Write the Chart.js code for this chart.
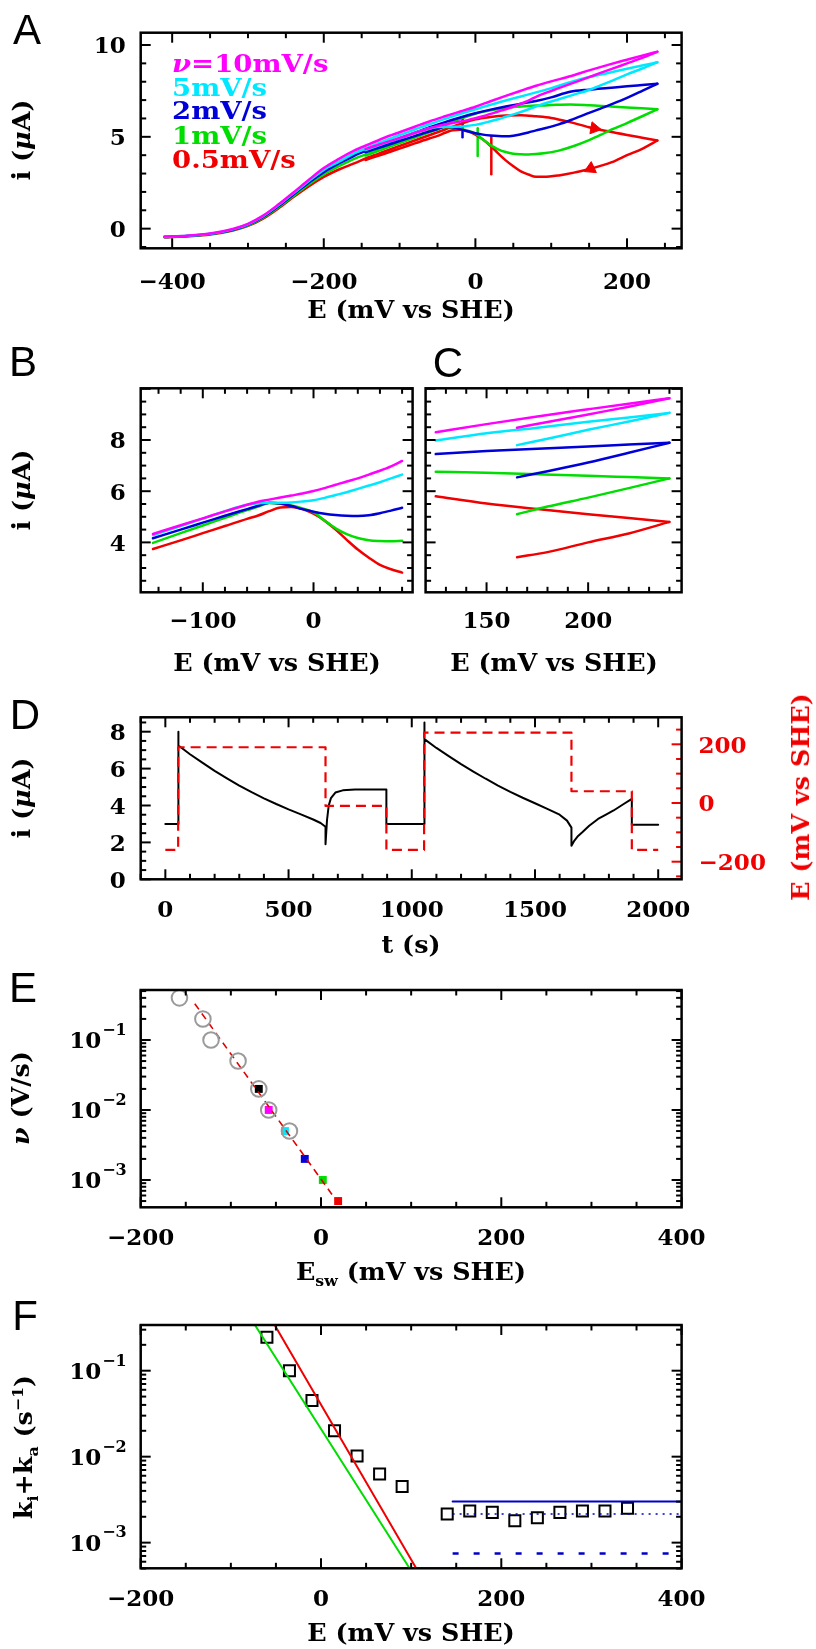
<!DOCTYPE html>
<html>
<head>
<meta charset="utf-8">
<script src="https://cdn.jsdelivr.net/npm/chart.js@4.4.1/dist/chart.umd.min.js"></script>
<style>
html,body{margin:0;padding:0;background:#fff;}
body{position:relative;width:816px;height:1649px;overflow:hidden;font-family:"DejaVu Serif",serif;}
canvas{position:absolute;left:0;top:0;}
.t{position:absolute;white-space:nowrap;line-height:1;font-size:24px;font-weight:bold;color:#000;}
.c{transform:translate(-50%,-50%) scaleX(1.06);}
.r{transform:translate(-50%,-50%) rotate(-90deg) scaleX(1.06);}
.p{position:absolute;font-family:"Liberation Sans",Arial,sans-serif;font-size:42px;line-height:1;transform:translate(-50%,-50%);}
.lg{position:absolute;white-space:nowrap;line-height:1;font-size:25px;font-weight:bold;transform-origin:0 50%;transform:translateY(-50%) scaleX(1.1);}
sub,sup{font-size:62%;line-height:0;}
</style>
</head>
<body>
<canvas id="cA" width="816" height="1649"></canvas>
<canvas id="cB" width="816" height="1649"></canvas>
<canvas id="cC" width="816" height="1649"></canvas>
<canvas id="cD" width="816" height="1649"></canvas>
<canvas id="cE" width="816" height="1649"></canvas>
<canvas id="cF" width="816" height="1649"></canvas>

<div class="p" style="left:27px;top:30px">A</div>
<div class="p" style="left:23px;top:362px">B</div>
<div class="p" style="left:448px;top:363px">C</div>
<div class="p" style="left:25px;top:715px">D</div>
<div class="p" style="left:23px;top:988px">E</div>
<div class="p" style="left:25px;top:1316px">F</div>

<div class="lg" style="left:172px;top:63px;color:#ff00ff"><i>ν</i>=10mV/s</div>
<div class="lg" style="left:172px;top:87px;color:#00e8ff">5mV/s</div>
<div class="lg" style="left:172px;top:110px;color:#0000d8">2mV/s</div>
<div class="lg" style="left:172px;top:135px;color:#00dd00">1mV/s</div>
<div class="lg" style="left:172px;top:159px;color:#f00000">0.5mV/s</div>

<div class="t c" style="left:411px;top:310px">E (mV vs SHE)</div>
<div class="t r" style="left:22px;top:140px">i (<i>μ</i>A)</div>
<div class="t c" style="left:277px;top:663px">E (mV vs SHE)</div>
<div class="t c" style="left:554px;top:663px">E (mV vs SHE)</div>
<div class="t r" style="left:22px;top:490px">i (<i>μ</i>A)</div>
<div class="t r" style="left:22px;top:798px">i (<i>μ</i>A)</div>
<div class="t c" style="left:411px;top:945px">t (s)</div>
<div class="t r" style="left:801px;top:797px;color:#f00000">E (mV vs SHE)</div>
<div class="t r" style="left:21px;top:1098px"><i>ν</i> (V/s)</div>
<div class="t c" style="left:411px;top:1272px">E<sub>sw</sub> (mV vs SHE)</div>
<div class="t r" style="left:24px;top:1447px">k<sub>i</sub>+k<sub>a</sub> (s<sup>−1</sup>)</div>
<div class="t c" style="left:411px;top:1633px">E (mV vs SHE)</div>

<script>
// ================= DATA =================
// Panel A: scan rates
const rateNames  = ['10 mV/s', '5 mV/s', '2 mV/s', '1 mV/s', '0.5 mV/s'];
const rateColors = ['#ff00ff', '#00e8ff', '#0000d8', '#00dd00', '#f00000'];

// forward (oxidative) scans
const fwdE   = [-410,-380,-350,-320,-300,-280,-260,-240,-220,-200,-180,-160,-140,-120,-100,-80,-60,-40,-20,0,20,40,60,80,100,125,150,175,200,220,240];
const fwd10  = [-0.43,-0.38,-0.27,-0.02,0.26,0.71,1.31,1.97,2.65,3.30,3.80,4.25,4.60,4.95,5.25,5.55,5.85,6.12,6.38,6.64,6.94,7.23,7.51,7.78,8.02,8.30,8.62,8.92,9.20,9.42,9.63];
const fwd5   = [-0.44,-0.39,-0.28,-0.04,0.24,0.68,1.27,1.92,2.58,3.20,3.65,4.10,4.45,4.78,5.10,5.40,5.70,5.98,6.25,6.50,6.75,6.98,7.20,7.42,7.65,7.98,8.26,8.48,8.71,8.88,9.06];
const fwd2   = [-0.45,-0.40,-0.29,-0.06,0.21,0.64,1.22,1.86,2.50,3.08,3.55,3.97,4.30,4.60,4.92,5.22,5.52,5.80,6.05,6.28,6.48,6.65,6.80,6.95,7.15,7.45,7.57,7.66,7.75,7.82,7.89];
const fwd1   = [-0.45,-0.40,-0.30,-0.08,0.18,0.60,1.16,1.78,2.40,2.95,3.40,3.80,4.10,4.40,4.72,5.03,5.35,5.66,5.98,6.26,6.44,6.57,6.65,6.70,6.73,6.76,6.72,6.66,6.60,6.55,6.50];
const fwd05  = [-0.47,-0.42,-0.32,-0.10,0.15,0.55,1.10,1.72,2.30,2.82,3.22,3.55,3.90,4.20,4.50,4.80,5.10,5.40,5.70,5.95,6.08,6.16,6.18,6.12,6.03,5.80,5.52,5.30,5.10,4.95,4.80];

// reverse scans
const revE   = [240,220,200,180,165,150,130,110,90,80,70,60,50,40,30,20,10,0,-10,-20,-30,-40,-50,-60,-80,-100,-120,-145];
const rev10  = [9.63,9.30,9.00,8.70,8.48,8.25,7.95,7.65,7.35,7.18,6.97,6.80,6.65,6.50,6.38,6.25,6.12,6.01,5.91,5.83,5.75,5.67,5.59,5.47,5.21,4.94,4.67,4.33];
const rev5   = [9.06,8.72,8.40,8.05,7.80,7.55,7.30,7.05,6.80,6.65,6.50,6.35,6.22,6.09,5.96,5.85,5.74,5.65,5.60,5.56,5.55,5.55,5.53,5.47,5.22,4.93,4.64,4.28];
const rev2   = [7.89,7.50,7.12,6.78,6.54,6.30,5.98,5.68,5.45,5.35,5.24,5.14,5.06,5.03,5.04,5.07,5.12,5.20,5.30,5.42,5.52,5.55,5.43,5.30,5.04,4.77,4.50,4.16];
const rev1   = [6.50,6.12,5.75,5.40,5.10,4.82,4.50,4.25,4.10,4.06,4.04,4.05,4.08,4.17,4.32,4.55,4.85,5.18,5.33,5.44,5.51,5.54,5.40,5.26,4.96,4.66,4.36,3.98];
const rev05  = [4.80,4.35,4.00,3.62,3.42,3.25,3.05,2.90,2.82,2.82,2.95,3.12,3.40,3.72,4.10,4.50,4.85,5.12,5.30,5.38,5.36,5.22,5.05,4.92,4.64,4.36,4.08,3.74];

// switch potential markers (2, 1, 0.5 mV/s)
const barE   = [-17, 3, 21];
const barLo  = [4.98, 3.96, 2.96];
const barHi  = [6.01, 5.47, 5.01];
const barColors = ['#0000d8', '#00dd00', '#f00000'];

// direction arrows on 0.5 mV/s trace
const arrowE   = [157, 152];
const arrowI   = [5.46, 3.27];
const arrowRot = [100, 245];

// Panel D: chronoamperometry
const dT = [0,52,52,54,80,100,150,200,250,300,350,400,450,500,550,600,630,650,650,656,663,672,690,720,770,897,897,1050,1050,1053,1100,1150,1200,1250,1300,1350,1400,1450,1500,1550,1600,1630,1648,1648,1660,1675,1692,1720,1756,1790,1819,1860,1893,1893,2000];
const dI = [3.0,3.0,8.0,7.25,6.98,6.78,6.32,5.88,5.47,5.08,4.72,4.39,4.08,3.79,3.52,3.24,3.05,2.85,1.9,3.2,4.0,4.4,4.7,4.82,4.87,4.87,3.0,3.0,8.5,7.6,7.12,6.68,6.24,5.84,5.45,5.08,4.74,4.42,4.12,3.82,3.5,3.18,2.8,1.82,2.1,2.35,2.55,2.9,3.27,3.52,3.73,4.08,4.36,2.95,2.95];
const stepT = [0, 52, 650, 897, 1050, 1648, 1893, 2000];
const stepE = [-160, 190, -10, -160, 240, 40, -160, -160];

// Panel E: switch potentials
const circE  = [-157, -131, -122, -92, -69, -58, -35];
const circNu = [0.4, 0.2, 0.1, 0.05, 0.02, 0.01, 0.005];
const sqE    = [-69, -58, -40, -18, 2, 19];
const sqNu   = [0.02, 0.01, 0.005, 0.002, 0.001, 0.0005];
const sqColors = ['#000000', '#ff00ff', '#00e8ff', '#0000d8', '#00dd00', '#f00000'];
const fitE   = [-140, 13];
const fitNu  = [0.33, 0.0006];

// Panel F: rate constants
const fE = [-60,-35,-10,15,40,65,90,140,165,190,215,240,265,290,315,340];
const fK = [0.245,0.1,0.045,0.02,0.0102,0.0063,0.0045,0.00215,0.00234,0.00225,0.0018,0.00195,0.00225,0.00234,0.00234,0.00251];
const greenLineE = [-73.3, 98.2], greenLineK = [0.34, 0.000503];
const redLineE   = [-51.4, 105.6], redLineK  = [0.34, 0.000503];
const blueE      = [146, 400];
const blueSolidK = [0.0030, 0.0030];
const blueDotK   = [0.00215, 0.00215];
const blueDashK  = [0.00075, 0.00075];

// Tick values / labels
const aXMaj = [-400,-200,0,200], aXMin = [-350,-300,-250,-150,-100,-50,50,100,150,250];
const aYMaj = [0,5,10], aYMin = [-1,1,2,3,4,6,7,8,9];
const bXMaj = [-100,0], bXMin = [-140,-120,-80,-60,-40,-20,20,40,60,80];
const bcYMaj = [2,4,6,8,10], bcYMin = [2.5,3,3.5,4.5,5,5.5,6.5,7,7.5,8.5,9,9.5];
const bcYLab = [4,6,8];
const cXMaj = [150,200], cXMin = [130,140,160,170,180,190,210,220,230,240];
const dXMaj = [0,500,1000,1500,2000], dXMin = [100,200,300,400,600,700,800,900,1100,1200,1300,1400,1600,1700,1800,1900,2100,-100];
const dYMaj = [0,2,4,6,8], dYMin = [0.5,1,1.5,2.5,3,3.5,4.5,5,5.5,6.5,7,7.5,8.5];
const dY2Maj = [-200,0,200], dY2Min = [-250,-150,-100,-50,50,100,150,250];
const efXMaj = [-200,0,200,400], efXMin = [-150,-100,-50,50,100,150,250,300,350];
const logExp = [-3,-2,-1];

// ================= DRAWING =================
const W = 816, H = 1649;
const FONT = 'bold %spx "DejaVu Serif"';
const SX = 1.0;
const pts = (E, V, lo = -1e9, hi = 1e9) => E.map((e, k) => ({x: e, y: V[k]})).filter(p => p.x >= lo && p.x <= hi);

function logMinor(lo, hi) {
  const out = [];
  for (let d = lo; d <= hi; d++) for (let m = 2; m <= 9; m++) out.push(m * Math.pow(10, d));
  return out;
}
function logMajor(lo, hi) { const o = []; for (let d = lo; d <= hi; d++) o.push(Math.pow(10, d)); return o; }
const fmt = v => (v < 0 ? '\u2212' + Math.abs(v) : String(v));

function ctext(ctx, s, x, y, size, align, color) {
  ctx.save();
  ctx.font = FONT.replace('%s', size);
  ctx.fillStyle = color || '#000';
  const w = ctx.measureText(s).width * SX;
  const x0 = align === 'center' ? x - w / 2 : align === 'right' ? x - w : x;
  ctx.translate(x0, y + size * 0.3645);
  ctx.scale(SX, 1);
  ctx.textAlign = 'left';
  ctx.textBaseline = 'alphabetic';
  ctx.fillText(s, 0, 0);
  ctx.restore();
  return w;
}
function twidth(ctx, s, size) {
  ctx.save(); ctx.font = FONT.replace('%s', size);
  const w = ctx.measureText(s).width * SX; ctx.restore(); return w;
}

const deco = {
  id: 'deco',
  afterDraw(chart) {
    const o = chart.canvas.deco; if (!o) return;
    const ctx = chart.ctx, a = chart.chartArea;
    const xs = chart.scales.x, ys = chart.scales.y;
    ctx.save();
    const seg = (x1, y1, x2, y2) => { ctx.beginPath(); ctx.moveTo(x1, y1); ctx.lineTo(x2, y2); ctx.stroke(); };
    const inX = p => p >= a.left - 0.5 && p <= a.right + 0.5;
    const inY = p => p >= a.top - 0.5 && p <= a.bottom + 0.5;
    ctx.lineWidth = 2; ctx.strokeStyle = '#000';
    [[o.xMaj, 10], [o.xMin, 5.5]].forEach(([list, len]) => list.forEach(v => {
      const p = xs.getPixelForValue(v); if (!inX(p)) return;
      seg(p, a.bottom, p, a.bottom - len); seg(p, a.top, p, a.top + len);
    }));
    [[o.yMaj, 10], [o.yMin, 5.5]].forEach(([list, len]) => list.forEach(v => {
      const p = ys.getPixelForValue(v); if (!inY(p)) return;
      seg(a.left, p, a.left + len, p); if (!o.y2) seg(a.right, p, a.right - len, p);
    }));
    if (o.y2) {
      const s2 = chart.scales.y2; ctx.strokeStyle = o.y2.color;
      [[o.y2.maj, 10], [o.y2.min, 5.5]].forEach(([list, len]) => list.forEach(v => {
        const p = s2.getPixelForValue(v); if (!inY(p)) return;
        seg(a.right, p, a.right - len, p);
      }));
      o.y2.labels.forEach(v => ctext(ctx, fmt(v), a.right + 17, s2.getPixelForValue(v), 23, 'left', o.y2.color));
    }
    ctx.strokeStyle = '#000'; ctx.lineWidth = 2.5;
    ctx.strokeRect(a.left, a.top, a.right - a.left, a.bottom - a.top);
    // labels
    o.xLab.forEach(v => ctext(ctx, fmt(v), xs.getPixelForValue(v), a.bottom + o.xOff, 23, 'center'));
    if (o.logY) {
      o.yLab.forEach(e => {
        const p = ys.getPixelForValue(Math.pow(10, e));
        const w1 = twidth(ctx, '10', 23), w2 = twidth(ctx, fmt(e), 16);
        const x0 = a.left - 15 - w1 - w2;
        ctext(ctx, '10', x0, p, 23, 'left');
        ctext(ctx, fmt(e), x0 + w1 + 1, p - 11, 16, 'left');
      });
    } else {
      o.yLab.forEach(v => ctext(ctx, fmt(v), a.left - 15, ys.getPixelForValue(v), 23, 'right'));
    }
    ctx.restore();
  }
};
Chart.register(deco);

function mk(id, box, scales, datasets, d) {
  const cv = document.getElementById(id);
  cv.deco = d;
  return new Chart(cv, {
    type: 'scatter',
    data: { datasets },
    options: {
      responsive: false, animation: false, devicePixelRatio: 1, events: [],
      layout: { padding: { left: box[0], top: box[1], right: W - box[2], bottom: H - box[3] } },
      plugins: { legend: { display: false }, tooltip: { enabled: false } },
      scales,
      elements: { point: { radius: 0 }, line: { borderJoinStyle: 'round', borderCapStyle: 'round' } }
    }
  });
}
const line = (data, color, width, extra) => Object.assign({
  data, showLine: true, borderColor: color, borderWidth: width, pointRadius: 0, fill: false,
  cubicInterpolationMode: 'monotone'
}, extra || {});

const fwdSets = [fwd10, fwd5, fwd2, fwd1, fwd05];
const revSets = [rev10, rev5, rev2, rev1, rev05];

// ---- A ----
const dsA = [];
for (let k = 0; k < 5; k++) {
  dsA.push(line(pts(fwdE, fwdSets[k]), rateColors[k], 2.5));
  dsA.push(line(pts(revE, revSets[k]), rateColors[k], 2.5));
}
for (let k = 0; k < 3; k++) {
  dsA.push(line([{x: barE[k], y: barLo[k]}, {x: barE[k], y: barHi[k]}], barColors[k], 2.5, {cubicInterpolationMode: 'default'}));
}
dsA.push({ data: pts(arrowE, arrowI), showLine: false, pointStyle: 'triangle', pointRadius: 7,
  pointRotation: arrowRot, pointBackgroundColor: '#f00000', pointBorderColor: '#f00000', pointBorderWidth: 1 });
mk('cA', [140.7, 32.7, 681.6, 248.3],
  { x: { type: 'linear', display: false, min: -441.5, max: 272 },
    y: { type: 'linear', display: false, min: -1.07, max: 10.67 } },
  dsA, { xMaj: aXMaj, xMin: aXMin, yMaj: aYMaj, yMin: aYMin, xLab: aXMaj, yLab: aYMaj, xOff: 32.5 });

// ---- B ----
const dsB = [];
for (let k = 0; k < 5; k++) dsB.push(line(pts(revE, revSets[k], -150, 80), rateColors[k], 2.5));
for (let k = 0; k < 5; k++) dsB.push(line(pts(revE, revSets[k], -150, 80), 'rgba(40,40,40,0.75)', 1, {borderDash: [5, 4]}));
mk('cB', [140.7, 388.3, 412.6, 592.3],
  { x: { type: 'linear', display: false, min: -156.1, max: 89.5 },
    y: { type: 'linear', display: false, min: 2.05, max: 10.02 } },
  dsB, { xMaj: bXMaj, xMin: bXMin, yMaj: bcYMaj, yMin: bcYMin, xLab: bXMaj, yLab: bcYLab, xOff: 27 });

// ---- C ----
const dsC = [];
for (let k = 0; k < 5; k++) {
  dsC.push(line(pts(fwdE, fwdSets[k], 120, 250), rateColors[k], 2.5));
  dsC.push(line(pts(revE, revSets[k], 165, 250), rateColors[k], 2.5));
}
for (let k = 0; k < 5; k++) {
  dsC.push(line(pts(fwdE, fwdSets[k], 120, 250), 'rgba(40,40,40,0.75)', 1, {borderDash: [5, 4]}));
  dsC.push(line(pts(revE, revSets[k], 165, 250), 'rgba(40,40,40,0.75)', 1, {borderDash: [5, 4]}));
}
mk('cC', [425.6, 388.3, 681.6, 592.3],
  { x: { type: 'linear', display: false, min: 120, max: 246 },
    y: { type: 'linear', display: false, min: 2.05, max: 10.02 } },
  dsC, { xMaj: cXMaj, xMin: cXMin, yMaj: bcYMaj, yMin: bcYMin, xLab: cXMaj, yLab: [], xOff: 27 });

// ---- D ----
mk('cD', [140.7, 717.3, 681.6, 879.3],
  { x: { type: 'linear', display: false, min: -100, max: 2095 },
    y: { type: 'linear', display: false, min: 0, max: 8.78 },
    y2: { type: 'linear', display: false, position: 'right', min: -260, max: 292 } },
  [
    line(pts(stepT, stepE), '#f00000', 2.2, { yAxisID: 'y2', stepped: 'before', borderDash: [10, 6], cubicInterpolationMode: 'default', borderCapStyle: 'butt' }),
    line(pts(dT, dI), '#000', 2, { cubicInterpolationMode: 'default' })
  ],
  { xMaj: dXMaj, xMin: dXMin, yMaj: dYMaj, yMin: dYMin, xLab: dXMaj, yLab: dYMaj, xOff: 29,
    y2: { color: '#f00000', maj: dY2Maj, min: dY2Min, labels: dY2Maj } });

// ---- E ----
mk('cE', [140.7, 990, 681.6, 1207.3],
  { x: { type: 'linear', display: false, min: -200, max: 400 },
    y: { type: 'logarithmic', display: false, min: 4.07e-4, max: 0.518 } },
  [
    { data: pts(circE, circNu), showLine: false, pointStyle: 'circle', pointRadius: 7.8,
      pointBorderColor: '#9a9a9a', pointBorderWidth: 2, pointBackgroundColor: 'rgba(0,0,0,0)', clip: false },
    line(pts(fitE, fitNu), '#e00000', 1.6, { borderDash: [7, 5], cubicInterpolationMode: 'default', borderCapStyle: 'butt' }),
    { data: pts(sqE, sqNu), showLine: false, pointStyle: 'rect', pointRadius: 5.6,
      pointBackgroundColor: sqColors, pointBorderWidth: 0, clip: false }
  ],
  { xMaj: efXMaj, xMin: efXMin, yMaj: logMajor(-4, 0), yMin: logMinor(-4, -1), xLab: efXMaj, yLab: logExp, logY: true, xOff: 29.5 });

// ---- F ----
mk('cF', [140.7, 1325, 681.6, 1568.3],
  { x: { type: 'linear', display: false, min: -200, max: 400 },
    y: { type: 'logarithmic', display: false, min: 5.03e-4, max: 0.34 } },
  [
    line(pts(greenLineE, greenLineK), '#00dd00', 2, { cubicInterpolationMode: 'default' }),
    line(pts(redLineE, redLineK), '#f00000', 2, { cubicInterpolationMode: 'default' }),
    line(pts(blueE, blueSolidK), '#0000c8', 2, { cubicInterpolationMode: 'default' }),
    line(pts(blueE, blueDotK), '#0000c8', 1.6, { borderDash: [2, 5], cubicInterpolationMode: 'default', borderCapStyle: 'butt' }),
    line(pts(blueE, blueDashK), '#0000c8', 2.5, { borderDash: [6, 15], cubicInterpolationMode: 'default', borderCapStyle: 'butt' }),
    { data: pts(fE, fK), showLine: false, pointStyle: 'rect', pointRadius: 7.8,
      pointBorderColor: '#000', pointBorderWidth: 2, pointBackgroundColor: 'rgba(0,0,0,0)', clip: false }
  ],
  { xMaj: efXMaj, xMin: efXMin, yMaj: logMajor(-4, 0), yMin: logMinor(-4, -1), xLab: efXMaj, yLab: logExp, logY: true, xOff: 29.7 });
</script>
</body>
</html>
